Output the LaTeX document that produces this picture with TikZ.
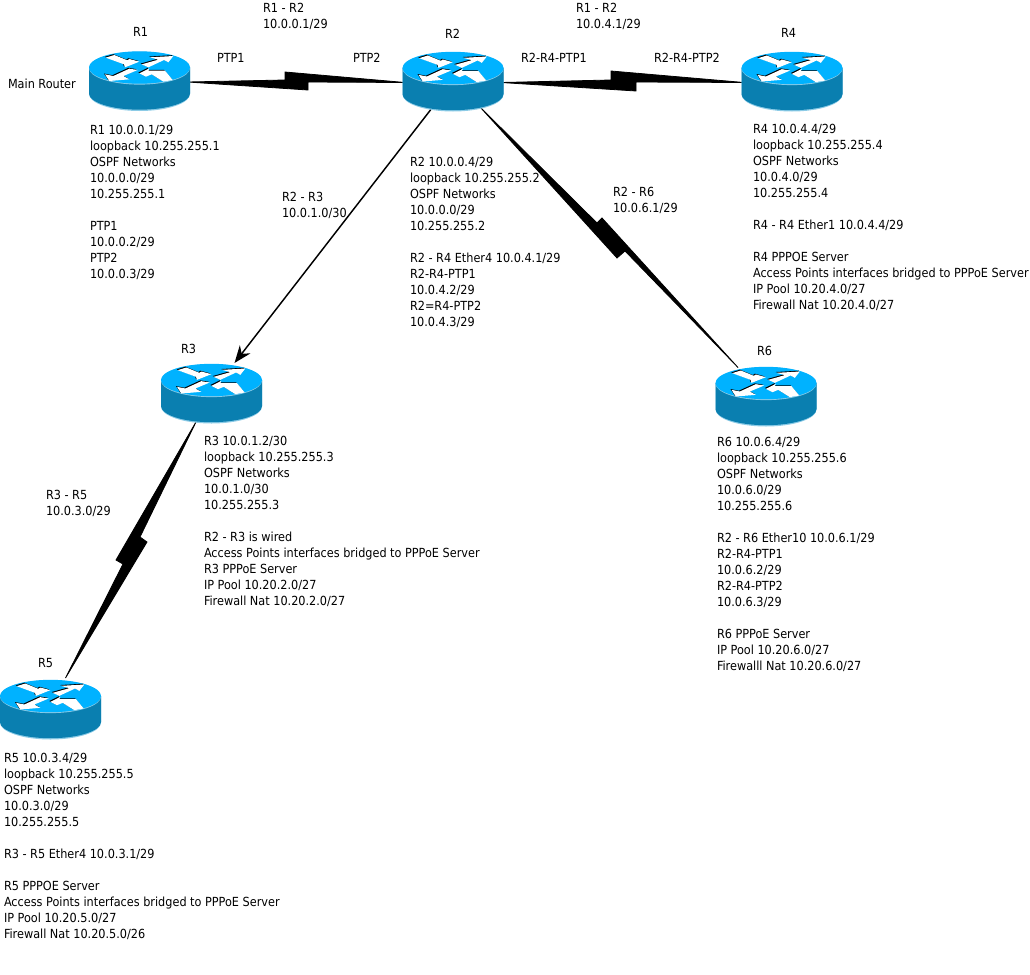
\documentclass[tikz,border=0pt]{standalone}
\usepackage{fontspec}
\setmainfont{DejaVu Sans Condensed}
\usetikzlibrary{calc,arrows.meta}
\definecolor{rtop}{HTML}{00B2FF}
\definecolor{rside}{HTML}{0A7FB0}
\definecolor{rlip}{HTML}{8CCBE6}
\tikzset{
  txt/.style={anchor=north west,inner sep=0pt,outer sep=0pt,align=left,font=\fontsize{9.4}{12}\selectfont,text=black},
  rtr/.style={minimum width=75pt,minimum height=44.25pt,inner sep=0pt,outer sep=0pt},
  ser/.style={fill=black,draw=black,line width=0.6pt,line join=miter,miter limit=2},
  wire/.style={draw=black,line width=1.1pt,-{Stealth[length=13pt,width=10pt]}}
}
\newcommand{\rtrarrowsb}[3]{%
  \begin{scope}[shift={(-69.5+#1,-37.5+#2)},x=0.25pt,y=-0.25pt]
    \fill[#3] (107,83)--(133,75)--(172,91)--(178,87)--(208,95)--(165,112)--(162,103)--cycle;
    \fill[#3] (215,103)--(265,89)--(240,82)--(310,78)--(295,97)--(282,90)--(235,112)--cycle;
    \fill[#3] (178,116)--(203,120)--(160,138)--(178,148)--(118,153)--(105,133)--(130,138)--cycle;
    \fill[#3] (208,130)--(238,115)--(235,122)--(285,122)--(308,150)--(280,155)--(245,133)--(228,140)--cycle;
  \end{scope}}
\newcommand{\rtrshape}[2]{%
  \begin{scope}[shift={(#1,#2)}]
    \fill[rlip] (-50.5,0) -- (-50.5,26.5) arc[x radius=50.5,y radius=17,start angle=180,end angle=0] -- (50.5,0) --cycle;
    \fill[rside] (-50.5,0) -- (-50.5,26) arc[x radius=50.5,y radius=16.2,start angle=180,end angle=0] -- (50.5,0) --cycle;
    \fill[rlip] (0,0.6) ellipse[x radius=50.5,y radius=16.5];
    \fill[rtop] (0,0) ellipse[x radius=50.5,y radius=16.2];
    \rtrarrowsb{-1}{-0.8}{black}
    \rtrarrowsb{0}{0}{white}
  \end{scope}}
\begin{document}
\begin{tikzpicture}[x=0.75pt,y=-0.75pt]
\useasboundingbox (0,0) rectangle (1030,974);
\node[rtr] (r1) at (139.5,80) {};
\node[rtr] (r2) at (453,80.5) {};
\node[rtr] (r4) at (792,80.5) {};
\node[rtr] (r3) at (211.5,392.5) {};
\node[rtr] (r6) at (766,395.5) {};
\node[rtr] (r5) at (50.5,708.5) {};
% connectors
\path[ser] ($(r1.east)+(-2,2)$) -- (285,80) -- (285,72) -- ($(r2.west)+(2,2)$) -- (308,82) -- (308,90) -- cycle;
\path[ser] ($(r2.east)+(-2,2)$) -- (611,80) -- (611,71) -- ($(r4.west)+(2,2)$) -- (636,82) -- (636,91) -- cycle;
\path[ser] ($(r2.south)+(27,-3)$) -- (617,258) -- (625,251) -- ($(r6.north)+(-28,1.5)$) -- (602,218) -- (597,223) -- cycle;
\path[ser] ($(r3.south)+(-15,-1)$) -- (140,537) -- (147,542) -- ($(r5.north)+(15,-1)$) -- (123,564) -- (116,560) -- cycle;
\path[wire] ($(r2.south)+(-21,-2)$) -- ($(r3.north)+(23,0)$);
% routers
\rtrshape{139.5}{67.5}
\rtrshape{453}{68}
\rtrshape{792}{68}
\rtrshape{211.5}{380}
\rtrshape{766}{383}
\rtrshape{50.5}{696}
% labels
\node[txt] (l1) at (133,27.5) {R1};
\node[txt] (l2) at (445,29.5) {R2};
\node[txt] (l4) at (781,28.5) {R4};
\node[txt] (l3) at (181,344.5) {R3};
\node[txt] (l6) at (757,346.5) {R6};
\node[txt] (l5) at (38,658.5) {R5};
\node[txt] (main) at (8,78.5) {Main Router};
\node[txt] (e1) at (263,3.5) {R1 - R2\\10.0.0.1/29};
\node[txt] (e2) at (576,3.5) {R1 - R2\\10.0.4.1/29};
\node[txt] (p1) at (217,53) {PTP1};
\node[txt] (p2) at (353,53) {PTP2};
\node[txt] (p3) at (521,53) {R2-R4-PTP1};
\node[txt] (p4) at (654,53) {R2-R4-PTP2};
\node[txt] (e3) at (282,192.5) {R2 - R3\\10.0.1.0/30};
\node[txt] (e4) at (613,187.5) {R2 - R6\\10.0.6.1/29};
\node[txt] (e5) at (46,490.5) {R3 - R5\\10.0.3.0/29};
\node[txt] (t1) at (90,125.5) {R1 10.0.0.1/29\\loopback 10.255.255.1\\OSPF Networks\\10.0.0.0/29\\10.255.255.1\\\mbox{}\\PTP1\\10.0.0.2/29\\PTP2\\10.0.0.3/29};
\node[txt] (t2) at (410,157.5) {R2 10.0.0.4/29\\loopback 10.255.255.2\\OSPF Networks\\10.0.0.0/29\\10.255.255.2\\\mbox{}\\R2 - R4 Ether4 10.0.4.1/29\\R2-R4-PTP1\\10.0.4.2/29\\R2=R4-PTP2\\10.0.4.3/29};
\node[txt] (t4) at (753,124.5) {R4 10.0.4.4/29\\loopback 10.255.255.4\\OSPF Networks\\10.0.4.0/29\\10.255.255.4\\\mbox{}\\R4 - R4 Ether1 10.0.4.4/29\\\mbox{}\\R4 PPPOE Server\\Access Points interfaces bridged to PPPoE Server\\IP Pool 10.20.4.0/27\\Firewall Nat 10.20.4.0/27};
\node[txt] (t3) at (204,436.5) {R3 10.0.1.2/30\\loopback 10.255.255.3\\OSPF Networks\\10.0.1.0/30\\10.255.255.3\\\mbox{}\\R2 - R3 is wired\\Access Points interfaces bridged to PPPoE Server\\R3 PPPoE Server\\IP Pool 10.20.2.0/27\\Firewall Nat 10.20.2.0/27};
\node[txt] (t6) at (717,437.5) {R6 10.0.6.4/29\\loopback 10.255.255.6\\OSPF Networks\\10.0.6.0/29\\10.255.255.6\\\mbox{}\\R2 - R6 Ether10 10.0.6.1/29\\R2-R4-PTP1\\10.0.6.2/29\\R2-R4-PTP2\\10.0.6.3/29\\\mbox{}\\R6 PPPoE Server\\IP Pool 10.20.6.0/27\\Firewalll Nat 10.20.6.0/27};
\node[txt] (t5) at (4,753.5) {R5 10.0.3.4/29\\loopback 10.255.255.5\\OSPF Networks\\10.0.3.0/29\\10.255.255.5\\\mbox{}\\R3 - R5 Ether4 10.0.3.1/29\\\mbox{}\\R5 PPPOE Server\\Access Points interfaces bridged to PPPoE Server\\IP Pool 10.20.5.0/27\\Firewall Nat 10.20.5.0/26};
\end{tikzpicture}
\end{document}
